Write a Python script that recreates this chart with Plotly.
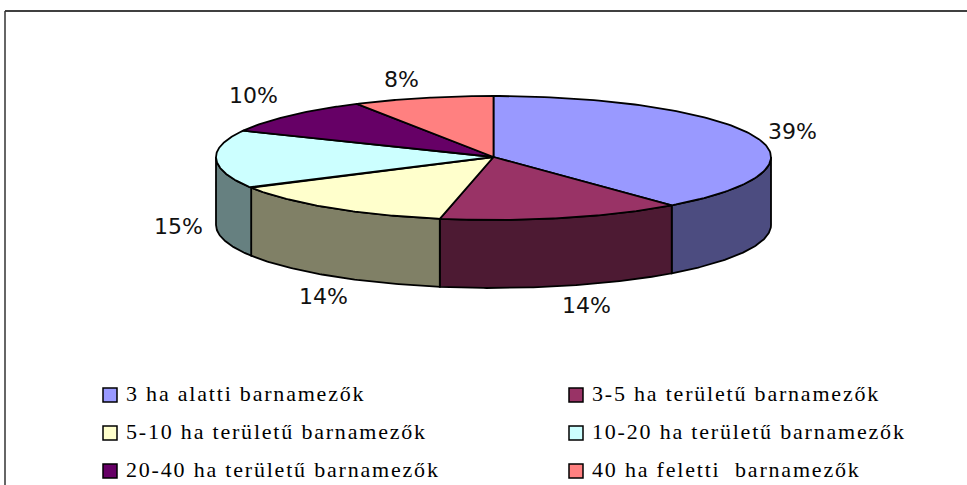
import numpy as np
import plotly.graph_objects as go

categories = ["3 ha alatti barnamezők", "3-5 ha területű barnamezők",
              "5-10 ha területű barnamezők", "10-20 ha területű barnamezők",
              "20-40 ha területű barnamezők", "40 ha feletti  barnamezők"]
values = [38.9, 14.2, 13.8, 15.2, 9.7, 8.2]
top_colors = ["#9999FF", "#993366", "#FFFFCC", "#CCFFFF", "#660066", "#FF8080"]
side_colors = ["#4C4C80", "#4D1A33", "#808066", "#668080", "#330033", "#804040"]

# layout of the drawing, in page pixels
CX, CY, RX, RY_BACK, RY_FRONT, DEPTH = 493.5, 157, 277.5, 61, 63, 68
label_pos = [(792, 131), (586, 305), (323, 296), (178, 226), (253, 95), (401, 79)]
legend_cols = [(110, 126), (576, 592)]
legend_rows = [395, 433, 471]

def ell(t):
    t = np.asarray(t)
    c = np.cos(t)
    ry = np.where(c >= 0, RY_BACK, RY_FRONT)
    return CX + RX * np.sin(t), CY - ry * c

fig = go.Figure()
LINE = dict(color="black", width=1.8)
edges = np.concatenate([[0], np.cumsum(values)]) / sum(values) * 2 * np.pi

# side walls: only the front half of the rim (pi/2 .. 3pi/2) shows
for i in range(len(values)):
    a, b = max(edges[i], np.pi / 2), min(edges[i + 1], 3 * np.pi / 2)
    if b <= a:
        continue
    x, y = ell(np.linspace(a, b, 80))
    fig.add_trace(go.Scatter(
        x=np.concatenate([x, x[::-1], x[:1]]),
        y=np.concatenate([y, y[::-1] + DEPTH, y[:1]]),
        mode="lines", fill="toself", fillcolor=side_colors[i], line=LINE,
        hoverinfo="skip", showlegend=False))

# top face
for i in range(len(values)):
    x, y = ell(np.linspace(edges[i], edges[i + 1], 120))
    fig.add_trace(go.Scatter(
        x=np.concatenate([[CX], x, [CX]]),
        y=np.concatenate([[CY], y, [CY]]),
        mode="lines", fill="toself", fillcolor=top_colors[i], line=LINE,
        name=categories[i], showlegend=False))

# legend swatches and texts
for i, name in enumerate(categories):
    col, row = legend_cols[i % 2], legend_rows[i // 2]
    fig.add_trace(go.Scatter(
        x=[col[0]], y=[row], mode="markers", hoverinfo="skip", showlegend=False,
        marker=dict(symbol="square", size=14, color=top_colors[i],
                    line=dict(color="black", width=1.5))))
    fig.add_trace(go.Scatter(
        x=[col[1]], y=[row], mode="text", text=[name], textposition="middle right",
        hoverinfo="skip", showlegend=False,
        textfont=dict(family="Liberation Serif", size=22, color="black")))

ann = []
for v, (px, py) in zip(values, label_pos):
    ann.append(dict(x=px, y=py, text=f"{round(v + 1e-9):d}%", xanchor="center", yanchor="middle",
                    showarrow=False, font=dict(family="DejaVu Sans", size=22, color="#111111")))

fig.update_layout(
    width=967, height=485, margin=dict(l=0, r=0, t=0, b=0),
    paper_bgcolor="white", plot_bgcolor="white", showlegend=False,
    xaxis=dict(range=[0, 967], visible=False, fixedrange=True),
    yaxis=dict(range=[485, 0], visible=False, fixedrange=True),
    annotations=ann,
    shapes=[
        dict(type="line", x0=5, x1=967, y0=11, y1=11, line=dict(color="black", width=1.5)),
        dict(type="line", x0=5, x1=5, y0=11, y1=485, line=dict(color="#333333", width=1.5)),
    ],
)
post = ("document.documentElement.style.overflow='hidden';document.body.style.margin='0';"
        "document.querySelectorAll('.textpoint text').forEach(function(t){t.style.letterSpacing='1.8px';});")
fig.write_html("out.html", post_script=post, config=dict(displayModeBar=False))
